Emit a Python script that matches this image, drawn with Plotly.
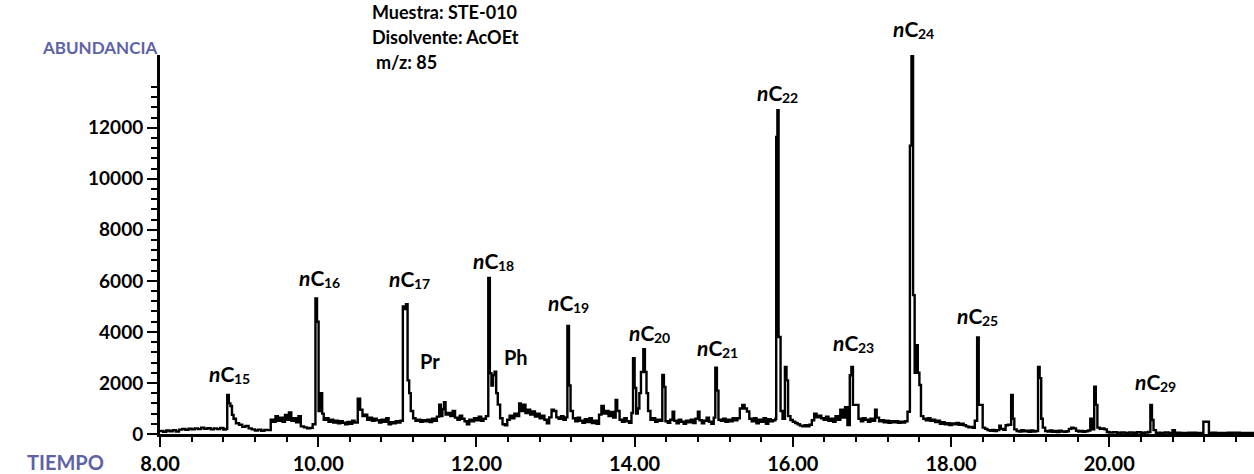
import plotly.graph_objects as go

# Retention time (min) and abundance of the m/z 85 ion chromatogram
TIME_MIN = [
    8.00, 8.04, 8.08, 8.12, 8.16, 8.20, 8.24, 8.28, 8.32, 8.36,
    8.40, 8.44, 8.48, 8.52, 8.56, 8.60, 8.64, 8.68, 8.72, 8.76,
    8.80, 8.83, 8.85, 8.87, 8.89, 8.91, 8.93, 8.96, 9.00, 9.04,
    9.08, 9.12, 9.16, 9.20, 9.24, 9.28, 9.32, 9.36, 9.40, 9.43,
    9.46, 9.49, 9.52, 9.55, 9.58, 9.61, 9.63, 9.66, 9.69, 9.72,
    9.75, 9.78, 9.82, 9.86, 9.90, 9.93, 9.965, 9.985, 10.005, 10.025,
    10.05, 10.07, 10.10, 10.13, 10.16, 10.19, 10.22, 10.25, 10.28, 10.31,
    10.34, 10.37, 10.40, 10.43, 10.46, 10.50, 10.53, 10.56, 10.59, 10.62,
    10.65, 10.68, 10.71, 10.74, 10.77, 10.80, 10.83, 10.86, 10.89, 10.92,
    10.95, 10.98, 11.01, 11.04, 11.07, 11.09, 11.11, 11.13, 11.15, 11.17,
    11.20, 11.23, 11.26, 11.29, 11.32, 11.35, 11.38, 11.41, 11.44, 11.47,
    11.50, 11.53, 11.55, 11.57, 11.59, 11.61, 11.64, 11.67, 11.70, 11.73,
    11.76, 11.79, 11.82, 11.85, 11.88, 11.91, 11.94, 11.97, 12.00, 12.03,
    12.06, 12.09, 12.12, 12.15, 12.17, 12.19, 12.21, 12.23, 12.25, 12.27,
    12.30, 12.33, 12.36, 12.39, 12.42, 12.45, 12.48, 12.51, 12.54, 12.56,
    12.59, 12.62, 12.65, 12.68, 12.71, 12.74, 12.77, 12.80, 12.83, 12.86,
    12.89, 12.92, 12.95, 12.98, 13.01, 13.04, 13.07, 13.10, 13.13, 13.15,
    13.17, 13.19, 13.22, 13.25, 13.28, 13.31, 13.34, 13.37, 13.40, 13.43,
    13.46, 13.49, 13.52, 13.55, 13.58, 13.61, 13.64, 13.67, 13.70, 13.73,
    13.76, 13.78, 13.81, 13.84, 13.87, 13.90, 13.93, 13.96, 13.98, 14.00,
    14.02, 14.04, 14.06, 14.08, 14.11, 14.13, 14.15, 14.17, 14.20, 14.23,
    14.26, 14.29, 14.32, 14.35, 14.37, 14.39, 14.42, 14.45, 14.48, 14.50,
    14.53, 14.56, 14.59, 14.62, 14.65, 14.68, 14.71, 14.74, 14.77, 14.80,
    14.82, 14.85, 14.88, 14.91, 14.94, 14.97, 15.00, 15.02, 15.04, 15.06,
    15.09, 15.12, 15.15, 15.18, 15.21, 15.24, 15.27, 15.30, 15.33, 15.36,
    15.39, 15.42, 15.45, 15.48, 15.51, 15.54, 15.57, 15.60, 15.63, 15.66,
    15.69, 15.72, 15.75, 15.78, 15.79, 15.805, 15.82, 15.845, 15.87, 15.90,
    15.92, 15.94, 15.97, 16.00, 16.03, 16.06, 16.09, 16.12, 16.15, 16.18,
    16.21, 16.24, 16.27, 16.30, 16.33, 16.36, 16.39, 16.42, 16.45, 16.48,
    16.51, 16.54, 16.57, 16.60, 16.63, 16.66, 16.69, 16.72, 16.74, 16.76,
    16.78, 16.80, 16.83, 16.86, 16.89, 16.92, 16.95, 16.98, 17.01, 17.04,
    17.06, 17.09, 17.12, 17.15, 17.18, 17.21, 17.24, 17.27, 17.30, 17.33,
    17.36, 17.39, 17.42, 17.45, 17.48, 17.50, 17.52, 17.54, 17.56, 17.58,
    17.60, 17.62, 17.65, 17.68, 17.71, 17.74, 17.77, 17.80, 17.83, 17.86,
    17.89, 17.92, 17.95, 17.98, 18.01, 18.04, 18.07, 18.10, 18.13, 18.16,
    18.19, 18.22, 18.25, 18.28, 18.30, 18.33, 18.35, 18.38, 18.40, 18.43,
    18.46, 18.49, 18.52, 18.55, 18.58, 18.61, 18.63, 18.66, 18.69, 18.72,
    18.76, 18.78, 18.80, 18.83, 18.86, 18.89, 18.92, 18.95, 18.98, 19.01,
    19.04, 19.07, 19.10, 19.12, 19.14, 19.16, 19.19, 19.22, 19.25, 19.28,
    19.31, 19.34, 19.37, 19.40, 19.43, 19.46, 19.49, 19.52, 19.55, 19.58,
    19.61, 19.64, 19.67, 19.70, 19.73, 19.76, 19.79, 19.81, 19.83, 19.85,
    19.88, 19.91, 19.94, 19.97, 20.00, 20.05, 20.10, 20.15, 20.20, 20.25,
    20.30, 20.35, 20.40, 20.45, 20.49, 20.52, 20.54, 20.56, 20.59, 20.65,
    20.70, 20.75, 20.80, 20.83, 20.90, 21.00, 21.10, 21.19, 21.26, 21.35,
    21.50, 21.65, 21.83,
]

ABUNDANCE = [
    120, 90, 140, 110, 150, 100, 170, 200, 160, 210,
    180, 220, 190, 250, 200, 230, 180, 220, 190, 240,
    170, 200, 1530, 1200, 1100, 750, 600, 420, 360, 280,
    320, 220, 180, 140, 170, 130, 160, 150, 560, 480,
    700, 520, 640, 480, 750, 560, 840, 520, 620, 460,
    700, 300, 260, 220, 240, 380, 5310, 4400, 900, 1600,
    800, 560, 620, 480, 560, 450, 520, 420, 500, 440,
    380, 470, 400, 520, 450, 1380, 950, 700, 760, 560,
    640, 520, 600, 540, 450, 560, 480, 620, 380, 460,
    420, 500, 450, 520, 5000, 4900, 5090, 2100, 1600, 900,
    620, 520, 560, 480, 540, 500, 560, 470, 600, 520,
    680, 1150, 700, 980, 1250, 760, 820, 700, 900, 640,
    560, 720, 600, 500, 380, 560, 500, 620, 540, 680,
    520, 600, 700, 6110, 2380, 1900, 2300, 2440, 1600, 1150,
    620, 380, 340, 560, 720, 620, 800, 700, 1200, 900,
    1150, 820, 950, 760, 880, 680, 800, 620, 720, 560,
    420, 650, 950, 900, 650, 600, 700, 560, 650, 4230,
    1900, 900, 620, 500, 640, 520, 440, 580, 470, 620,
    430, 520, 400, 760, 1100, 800, 900, 700, 860, 640,
    1330, 900, 560, 480, 620, 500, 440, 820, 2970, 1800,
    800, 1000, 1600, 2430, 3320, 2430, 1600, 900, 560, 620,
    480, 560, 520, 2310, 1840, 500, 440, 560, 870, 520,
    420, 560, 480, 400, 520, 460, 560, 430, 600, 870,
    540, 420, 520, 640, 480, 400, 640, 2600, 1700, 560,
    520, 600, 480, 560, 500, 620, 540, 620, 1000, 1140,
    1000, 880, 600, 500, 620, 420, 560, 480, 620, 400,
    580, 500, 540, 600, 11640, 12690, 3800, 900, 600, 2630,
    2100, 700, 550, 480, 430, 380, 330, 300, 340, 300,
    360, 540, 800, 650, 720, 620, 560, 680, 520, 600,
    480, 700, 560, 950, 640, 1050, 350, 2300, 2630, 1140,
    1140, 1140, 600, 500, 620, 560, 480, 600, 520, 950,
    640, 500, 540, 460, 520, 440, 500, 460, 500, 440,
    480, 450, 500, 870, 11300, 14840, 5440, 2400, 3480, 2400,
    1920, 700, 600, 540, 620, 520, 560, 470, 520, 400,
    460, 380, 420, 350, 410, 380, 430, 360, 400, 340,
    300, 260, 280, 240, 520, 3785, 1140, 1140, 250, 200,
    150, 130, 160, 120, 150, 330, 200, 160, 340, 360,
    1530, 600, 180, 120, 100, 150, 110, 130, 90, 140,
    100, 120, 2630, 2190, 600, 250, 120, 100, 140, 90,
    120, 80, 130, 100, 90, 110, 200, 250, 220, 130,
    100, 120, 90, 110, 140, 600, 180, 1850, 1140, 250,
    200, 220, 180, 80, 60, 70, 50, 60, 40, 60,
    50, 70, 50, 60, 80, 1140, 550, 150, 50, 40,
    60, 40, 150, 50, 40, 50, 40, 480, 50, 40,
    50, 40, 40,
]

# n-alkane peak labels: carbon number, label time (min), label height (abundance)
ALKANE_CARBONS = [15, 16, 17, 18, 19, 20, 21, 22, 23, 24, 25, 29]
ALKANE_LABEL_TIME = [8.86, 10.00, 11.14, 12.20, 13.15, 14.17, 15.03, 15.79, 16.75, 17.51, 18.32, 20.56]
ALKANE_LABEL_HEIGHT = [2390, 6150, 6110, 6810, 5170, 3990, 3370, 13390, 3600, 15900, 4660, 2040]

# Isoprenoid labels (pristane, phytane)
ISOPRENOID_NAMES = ["Pr", "Ph"]
ISOPRENOID_LABEL_TIME = [11.41, 12.50]
ISOPRENOID_LABEL_HEIGHT = [2870, 3015]

SAMPLE_INFO = ["Muestra: STE-010", "Disolvente: AcOEt", "m/z: 85"]

# Axis ticks
X_TICKS = [8, 10, 12, 14, 16, 18, 20]
Y_TICKS = [0, 2000, 4000, 6000, 8000, 10000, 12000]
Y_MINOR_TICKS = [v for v in range(400, 13700, 400) if v % 2000 != 0]

X_RANGE = [8.0, 21.83]
Y_MAX = 14850

FONT = "Lato"
AXIS_TITLE_COLOR = "#5e62a6"
LABEL_SIZE = 21
SUB_SIZE = 14

fig = go.Figure()
fig.add_trace(go.Scatter(
    x=TIME_MIN, y=ABUNDANCE, mode="lines",
    line=dict(color="black", width=2.4, shape="hv"),
    hoverinfo="x+y", showlegend=False,
))

annotations = []
# "nC" stem and its carbon-number subscript drawn as two adjoining texts
for n, t, h in zip(ALKANE_CARBONS, ALKANE_LABEL_TIME, ALKANE_LABEL_HEIGHT):
    annotations.append(dict(
        x=t, y=h / Y_MAX, xref="x", yref="paper",
        text="<i>n</i>C", showarrow=False, borderpad=0, borderwidth=0,
        font=dict(family=FONT, size=LABEL_SIZE, color="black", weight="bold"),
        xanchor="right", yanchor="middle", xshift=6,
    ))
    annotations.append(dict(
        x=t, y=h / Y_MAX, xref="x", yref="paper",
        text=str(n), showarrow=False, borderpad=0, borderwidth=0,
        font=dict(family=FONT, size=SUB_SIZE, color="black", weight="bold"),
        xanchor="left", yanchor="middle", xshift=6, yshift=-5,
    ))
for name, t, h in zip(ISOPRENOID_NAMES, ISOPRENOID_LABEL_TIME, ISOPRENOID_LABEL_HEIGHT):
    annotations.append(dict(
        x=t, y=h / Y_MAX, xref="x", yref="paper",
        text=name, showarrow=False,
        font=dict(family=FONT, size=20, color="black", weight="bold"),
        xanchor="center", yanchor="middle",
    ))

# Sample header block
header_y = [1.1135, 1.0475, 0.9815]
header_x = [0.1920, 0.1920, 0.1955]
for txt, xp, yp in zip(SAMPLE_INFO, header_x, header_y):
    annotations.append(dict(
        x=xp, y=yp, xref="paper", yref="paper", text=txt, showarrow=False,
        font=dict(family=FONT, size=18, color="black", weight="bold"),
        xanchor="left", yanchor="middle",
    ))

# Axis captions
annotations.append(dict(
    x=-0.1097, y=1.0185, xref="paper", yref="paper", text="ABUNDANCIA",
    showarrow=False, xanchor="left", yanchor="middle",
    font=dict(family=FONT, size=17, color=AXIS_TITLE_COLOR, weight="bold"),
))
annotations.append(dict(
    x=-0.1234, y=-0.0739, xref="paper", yref="paper", text="TIEMPO",
    showarrow=False, xanchor="left", yanchor="middle",
    font=dict(family=FONT, size=20, color=AXIS_TITLE_COLOR, weight="bold"),
))

fig.update_layout(
    width=1254, height=474,
    margin=dict(l=160, r=0, t=55, b=40, pad=0),
    paper_bgcolor="white", plot_bgcolor="white",
    annotations=annotations,
    xaxis=dict(
        range=X_RANGE, showgrid=False, zeroline=False,
        showline=True, linecolor="black", linewidth=3,
        ticks="outside", ticklen=10, tickwidth=2, tickcolor="black",
        tickmode="array", tickvals=X_TICKS, tickformat=".2f",
        tickfont=dict(family=FONT, size=20, color="black", weight="bold"),
        minor=dict(dtick=0.4, tick0=8, ticks="outside", ticklen=5,
                   tickwidth=2, tickcolor="black", showgrid=False),
    ),
    yaxis=dict(
        range=[0, Y_MAX], showgrid=False, zeroline=False,
        showline=True, linecolor="black", linewidth=3,
        ticks="outside", ticklen=10, tickwidth=2, tickcolor="black",
        tickmode="array", tickvals=Y_TICKS, tickformat="d",
        tickfont=dict(family=FONT, size=19, color="black", weight="bold"),
        minor=dict(tickmode="array", tickvals=Y_MINOR_TICKS, ticks="outside",
                   ticklen=6, tickwidth=2, tickcolor="black", showgrid=False),
    ),
)

assert len(TIME_MIN) == len(ABUNDANCE)
fig.write_html("out.html")
